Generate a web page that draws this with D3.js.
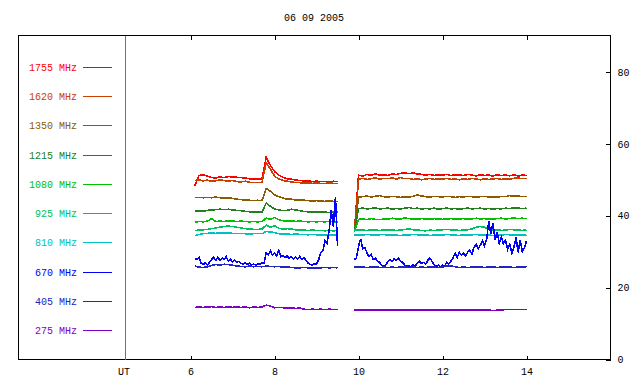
<!DOCTYPE html>
<html>
<head>
<meta charset="utf-8">
<script src="https://cdn.jsdelivr.net/npm/d3@7"></script>
<style>
body { margin: 0; background: #fff; }
svg { display: block; }
text { font-family: "Liberation Mono", "DejaVu Sans Mono", monospace; font-size: 10px; }
</style>
</head>
<body>
<div id="chart"></div>
<script>
const title = "06 09 2005";
const freqs = [1755, 1620, 1350, 1215, 1080, 925, 810, 670, 405, 275];
const colors = ["#ff0000", "#c84000", "#8c5a00", "#228022", "#00c000", "#00c060", "#00c0c0", "#0000ff", "#2424c0", "#8000c8"];
const xTicks = [6, 8, 10, 12, 14];
const yTicks = [0, 20, 40, 60, 80];

// UT hours, two recording blocks
const hours1 = [6.1,6.2,6.3,6.4,6.5,6.6,6.7,6.8,6.9,7.0,7.1,7.2,7.3,7.4,7.5,7.6,7.7,7.8,7.9,8.0,8.1,8.2,8.3,8.4,8.5,8.6,8.7,8.8,8.9,9.0,9.1,9.2,9.3,9.4,9.5];
const hours2 = [9.9,10.0,10.1,10.2,10.3,10.4,10.5,10.6,10.7,10.8,10.9,11.0,11.1,11.2,11.3,11.4,11.5,11.6,11.7,11.8,11.9,12.0,12.1,12.2,12.3,12.4,12.5,12.6,12.7,12.8,12.9,13.0,13.1,13.2,13.3,13.4,13.5,13.6,13.7,13.8,13.9,14.0];
// finer sampling for the noisy 670 MHz trace
const hoursFine1 = [6.10,6.15,6.20,6.25,6.30,6.35,6.40,6.45,6.50,6.55,6.60,6.65,6.70,6.75,6.80,6.85,6.90,6.95,7.00,7.05,7.10,7.15,7.20,7.25,7.30,7.35,7.40,7.45,7.50,7.55,7.60,7.65,7.70,7.75,7.80,7.85,7.90,7.95,8.00,8.05,8.10,8.15,8.20,8.25,8.30,8.35,8.40,8.45,8.50,8.55,8.60,8.65,8.70,8.75,8.80,8.85,8.90,8.95,9.00,9.05,9.10,9.15,9.20,9.25,9.30,9.35,9.40,9.45,9.50];
const hoursFine2 = [9.90,9.95,10.00,10.05,10.10,10.15,10.20,10.25,10.30,10.35,10.40,10.45,10.50,10.55,10.60,10.65,10.70,10.75,10.80,10.85,10.90,10.95,11.00,11.05,11.10,11.15,11.20,11.25,11.30,11.35,11.40,11.45,11.50,11.55,11.60,11.65,11.70,11.75,11.80,11.85,11.90,11.95,12.00,12.05,12.10,12.15,12.20,12.25,12.30,12.35,12.40,12.45,12.50,12.55,12.60,12.65,12.70,12.75,12.80,12.85,12.90,12.95,13.00,13.05,13.10,13.15,13.20,13.25,13.30,13.35,13.40,13.45,13.50,13.55,13.60,13.65,13.70,13.75,13.80,13.85,13.90,13.95,14.00];

const v1755a = [48.3,51.2,51.4,51.0,50.6,50.5,50.8,50.6,50.9,50.8,50.7,50.6,50.5,50.3,50.2,50.2,50.1,56.3,54.0,52.3,51.3,50.7,50.3,50.2,49.9,49.8,49.7,49.7,49.5,49.6,49.5,49.5,49.4,49.6,49.5];
const v1755b = [35.5,51.3,51.0,51.5,51.2,51.6,51.3,51.4,51.2,51.6,51.5,51.8,51.9,51.7,51.9,51.6,51.5,51.3,51.5,51.2,51.4,51.3,51.5,51.2,51.4,51.3,51.2,51.5,51.3,51.1,51.4,51.2,51.3,51.0,51.4,51.2,51.3,51.1,51.4,51.0,51.3,51.2];
const v1620a = [49.8,50.0,49.7,49.9,49.6,49.7,50.0,49.8,49.6,49.8,49.5,49.4,49.6,49.3,49.2,49.3,49.2,54.8,53.0,51.0,50.2,49.8,49.6,49.4,49.2,49.2,49.1,49.2,49.0,49.1,49.0,49.0,49.1,49.0,49.0];
const v1620b = [35.5,50.2,50.4,50.1,50.3,50.5,50.2,50.4,50.3,50.5,50.2,50.6,50.3,50.4,50.1,50.3,50.0,50.2,50.4,50.1,50.3,50.2,50.4,50.1,50.2,50.0,50.3,50.1,50.4,50.2,50.0,50.3,50.1,50.2,50.4,50.1,50.3,50.2,50.4,50.5,50.3,50.4];
const v1350a = [45.0,45.1,45.0,45.1,45.0,45.2,45.0,44.9,45.0,44.8,44.6,44.5,44.3,44.3,44.2,44.3,44.2,47.6,46.8,45.8,45.3,44.9,44.6,44.6,44.4,44.3,44.3,44.2,44.1,44.2,44.1,44.0,44.1,44.0,44.0];
const v1350b = [35.5,45.2,45.3,45.5,45.2,45.4,45.6,45.3,45.2,45.4,45.3,45.1,45.3,45.2,45.4,45.8,45.5,45.3,45.2,45.4,45.3,45.2,45.4,45.3,45.1,45.3,45.2,45.4,45.3,45.2,45.3,45.4,45.2,45.3,45.1,45.4,45.3,45.6,45.4,45.5,45.3,45.4];
const v1215a = [41.3,41.4,41.2,41.5,41.6,41.7,41.8,41.7,41.8,41.6,41.5,41.4,41.2,41.1,41.0,41.1,41.0,43.5,42.6,41.9,41.6,41.4,41.5,41.8,41.6,41.4,41.2,41.1,41.0,41.1,41.0,41.0,40.9,41.0,41.0];
const v1215b = [35.5,42.0,42.1,41.9,42.0,42.2,41.9,42.0,42.1,41.8,42.0,41.9,42.1,42.3,42.0,42.1,41.9,42.0,41.9,42.1,41.8,42.0,42.1,41.9,42.0,41.8,42.0,42.1,41.9,42.0,42.1,41.9,42.0,41.8,42.0,41.9,42.1,42.0,42.2,42.1,42.0,42.1];
const v1080a = [38.2,38.4,38.3,38.5,39.2,38.4,38.5,38.4,38.6,38.5,38.4,38.5,38.4,38.3,38.4,38.3,38.4,39.3,39.0,39.5,38.9,38.6,38.5,38.6,38.4,38.5,38.4,38.3,38.4,38.3,38.4,38.3,38.4,38.3,38.3];
const v1080b = [35.5,39.0,39.1,38.9,39.2,39.0,38.9,39.1,39.0,39.3,39.1,39.0,39.4,39.2,39.1,39.0,39.2,39.1,39.0,39.2,39.1,39.0,39.1,39.2,39.0,39.1,39.2,39.0,39.1,39.3,39.1,39.2,39.0,39.1,39.2,39.3,39.1,39.2,39.4,39.2,39.3,39.2];
const v925a = [35.9,36.0,36.1,36.2,36.4,36.6,36.8,37.0,37.1,37.0,36.8,36.6,36.4,36.3,36.2,36.2,36.3,37.4,36.8,37.2,36.5,36.3,36.4,36.3,36.1,36.0,36.0,35.9,36.0,35.9,35.9,35.8,35.9,35.8,35.9];
const v925b = [36.0,36.1,36.0,35.9,36.1,36.0,35.9,36.0,36.1,36.0,35.9,36.0,36.2,36.3,36.1,36.0,35.9,35.8,36.0,35.9,36.0,36.1,36.2,36.1,36.0,35.9,36.0,36.1,36.3,36.8,37.0,36.8,36.2,36.0,36.1,35.9,36.0,36.2,36.1,36.0,35.9,36.1];
const v810a = [34.4,34.8,35.0,35.1,35.2,35.1,35.2,35.1,35.2,35.1,35.0,35.1,35.0,34.9,35.0,35.0,35.0,35.6,35.5,35.3,35.0,34.9,34.9,34.8,34.9,34.8,34.8,34.7,34.8,34.7,34.7,34.6,34.7,34.6,34.6];
const v810b = [34.6,34.7,34.6,34.8,34.7,34.6,34.7,34.8,34.6,34.7,34.6,34.5,34.7,34.6,34.8,34.7,34.6,34.7,34.5,34.6,34.7,34.6,34.8,34.7,34.6,34.5,34.7,34.6,34.7,34.8,34.6,34.7,34.6,34.5,34.7,34.6,34.8,34.7,34.6,34.7,34.6,34.7];
const v670a = [28.2,27.8,28.4,26.8,26.4,26.9,26.3,27.0,27.8,28.4,27.6,28.5,27.5,28.2,27.9,28.6,27.3,27.8,27.2,27.6,27.0,27.3,26.8,26.5,26.9,26.4,26.8,26.3,26.6,26.2,26.7,26.5,26.9,26.8,29.8,29.2,30.2,29.0,29.6,28.8,30.4,28.6,29.0,28.3,28.8,28.1,28.6,27.9,28.5,28.0,28.7,27.8,28.4,27.6,26.8,26.4,26.3,26.6,26.5,27.8,29.6,30.2,33.0,32.4,36.0,41.5,37.0,45.2,31.5];
const v670b = [27.8,28.3,31.5,33.6,30.8,31.2,29.6,28.6,29.3,27.8,28.2,27.4,27.0,26.3,26.0,26.4,27.2,27.8,27.3,28.0,27.6,28.2,27.4,27.0,26.3,25.9,26.1,25.8,26.4,26.0,26.8,27.3,26.7,27.0,26.5,27.6,28.2,27.3,26.4,25.9,26.2,25.8,26.3,26.0,27.0,26.6,27.4,28.3,29.6,28.4,29.8,29.0,29.5,28.8,29.9,30.4,29.4,31.2,32.0,30.8,31.8,33.0,31.6,33.4,38.4,35.0,38.0,33.2,35.5,32.4,34.0,32.2,33.2,30.6,32.0,29.6,31.2,34.0,29.8,33.2,30.0,31.0,33.0];
const v405a = [26.0,25.7,25.6,25.8,26.2,26.4,26.3,26.5,26.4,26.2,26.0,25.9,25.8,26.0,25.8,25.9,25.8,26.0,25.9,25.8,25.9,25.7,25.8,25.6,25.5,25.5,25.6,25.5,25.4,25.5,25.5,25.6,25.5,25.6,25.5];
const v405b = [25.7,25.8,25.7,25.6,25.7,25.8,25.6,25.7,25.6,25.7,25.6,25.7,25.8,25.6,25.7,25.6,25.7,25.6,25.8,25.7,25.6,25.7,26.1,26.0,25.8,25.6,25.7,25.6,25.7,25.8,25.7,25.6,25.7,25.8,25.6,25.7,25.8,25.7,25.6,25.7,25.8,25.7];
const v275a = [14.5,14.6,14.5,14.6,14.7,14.5,14.6,14.5,14.6,14.5,14.6,14.5,14.6,14.4,14.6,14.5,14.6,15.1,14.9,14.4,14.5,14.4,14.3,14.4,14.2,14.3,14.0,13.9,14.0,13.9,14.0,13.9,14.0,13.9,13.9];
const v275b = [13.8,13.7,13.8,13.7,13.7,13.8,13.7,13.8,13.7,13.8,13.7,13.7,13.8,13.7,13.7,13.8,13.7,13.7,13.8,13.7,13.8,13.7,13.8,13.7,13.7,13.8,13.7,13.8,13.7,13.7,13.8,13.7,13.8,13.6,13.7,13.8,13.9,13.9,13.9,13.9,13.9,13.9];

// [times, values] pairs per frequency, same order as freqs
const segments = [
    [[hours1, v1755a], [hours2, v1755b]],
    [[hours1, v1620a], [hours2, v1620b]],
    [[hours1, v1350a], [hours2, v1350b]],
    [[hours1, v1215a], [hours2, v1215b]],
    [[hours1, v1080a], [hours2, v1080b]],
    [[hours1, v925a], [hours2, v925b]],
    [[hours1, v810a], [hours2, v810b]],
    [[hoursFine1, v670a], [hoursFine2, v670b]],
    [[hours1, v405a], [hours2, v405b]],
    [[hours1, v275a], [hours2, v275b]]
];

const width = 640;
const height = 384;

const svg = d3.select("#chart")
    .append("svg")
    .attr("width", width)
    .attr("height", height);

const xScale = d3.scaleLinear()
    .domain([4.45, 16])
    .range([125.5, 610.5]);

const yScale = d3.scaleLinear()
    .domain([0, 90])
    .range([359.5, 36]);

// title
svg.append("text")
    .attr("x", 314)
    .attr("y", 21)
    .attr("text-anchor", "middle")
    .attr("fill", "#000")
    .text(title);

// outer frame and legend divider
svg.append("rect")
    .attr("x", 18.5)
    .attr("y", 35.5)
    .attr("width", 592)
    .attr("height", 324)
    .attr("fill", "none")
    .attr("stroke", "#000")
    .attr("shape-rendering", "crispEdges");

svg.append("line")
    .attr("x1", 125.5).attr("x2", 125.5)
    .attr("y1", 35.5).attr("y2", 359.5)
    .attr("stroke", "#707070")
    .attr("shape-rendering", "crispEdges");

// axes
const axisBottom = svg.append("g")
    .attr("transform", "translate(0,359.5)")
    .call(d3.axisBottom(xScale).tickValues(xTicks).tickSize(-4).tickPadding(8).tickFormat(d3.format("d")));

const axisTop = svg.append("g")
    .attr("transform", "translate(0,35.5)")
    .call(d3.axisTop(xScale).tickValues(xTicks).tickSize(-4).tickFormat(""));

const axisRight = svg.append("g")
    .attr("transform", "translate(610.5,0)")
    .call(d3.axisRight(yScale).tickValues(yTicks).tickSize(-5).tickPadding(7));

[axisBottom, axisTop, axisRight].forEach(a => {
    a.select(".domain").remove();
    a.attr("font-family", null).attr("font-size", null);
    a.selectAll("line").attr("shape-rendering", "crispEdges");
});

svg.append("text")
    .attr("x", 124)
    .attr("y", 375)
    .attr("text-anchor", "middle")
    .text("UT");

// legend
const legendY = d3.scaleLinear().domain([0, 9]).range([67.5, 330.5]);

const legend = svg.append("g")
    .selectAll("g")
    .data(freqs)
    .join("g")
    .attr("transform", (d, i) => `translate(0,${Math.round(legendY(i) - 0.5) + 0.5})`);

legend.append("text")
    .attr("x", 77)
    .attr("y", 3.5)
    .attr("text-anchor", "end")
    .attr("fill", (d, i) => colors[i])
    .text(d => d + " MHz");

legend.append("line")
    .attr("x1", 83)
    .attr("x2", 112)
    .attr("stroke", (d, i) => colors[i])
    .attr("shape-rendering", "crispEdges");

// traces
const line = d3.line()
    .x(d => xScale(d[0]))
    .y(d => yScale(d[1]));

segments.forEach((segs, i) => {
    segs.forEach(([t, v]) => {
        if (t.length !== v.length) throw new Error(freqs[i] + " MHz: " + t.length + " vs " + v.length);
        svg.append("path")
            .datum(d3.zip(t, v))
            .attr("fill", "none")
            .attr("stroke", colors[i])
            .attr("stroke-width", 1.6)
            .attr("shape-rendering", "crispEdges")
            .attr("d", line);
    });
});
</script>
</body>
</html>
